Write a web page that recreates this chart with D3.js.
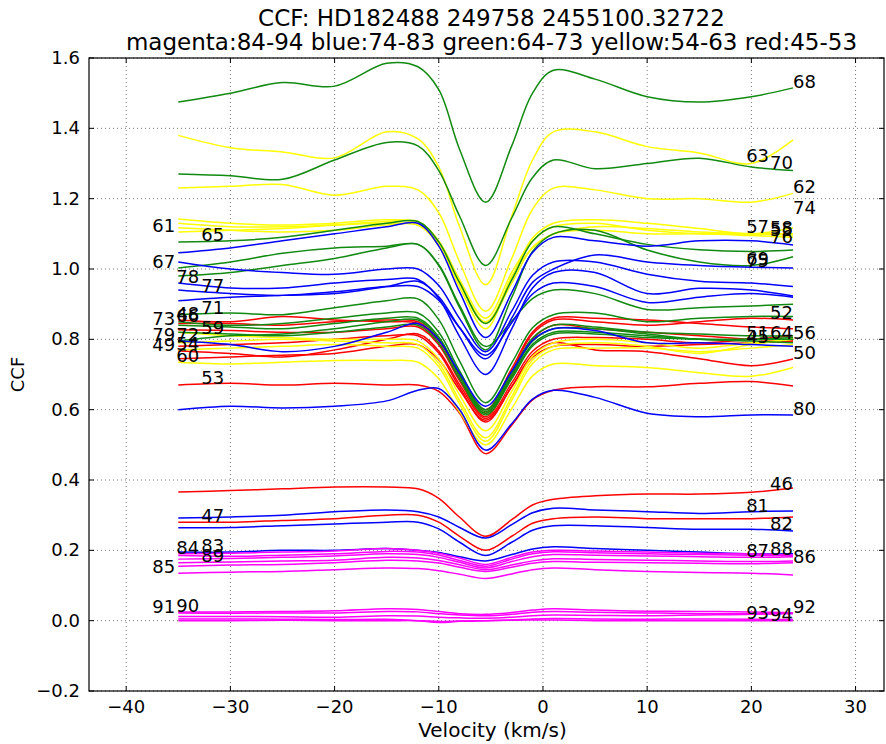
<!DOCTYPE html>
<html lang="en">
<head>
<meta charset="UTF-8">
<title>CCF HD182488</title>
<script src="https://d3js.org/d3.v7.min.js"></script>
<style>
  body { margin: 0; padding: 0; background: #fff; }
  svg { font-family: "DejaVu Sans", sans-serif; }
</style>
</head>
<body>
<svg id="chart" width="886" height="744"></svg>
<script>
// velocity grid (km/s) shared by every curve
const velocity = [-35, -30, -25, -20, -15, -12, -10, -8, -5.5, -3, -1, 1, 5, 10, 15, 20, 24];

const redIds = [45, 46, 47, 48, 49, 50, 51, 52, 53];
const redCurves = [
  [0.745,0.75,0.755,0.76,0.78,0.785,0.742,0.656,0.57,0.665,0.749,0.78,0.785,0.78,0.785,0.79,0.795],
  [0.366,0.37,0.375,0.38,0.38,0.375,0.348,0.294,0.24,0.287,0.329,0.345,0.355,0.36,0.36,0.365,0.377],
  [0.28,0.28,0.285,0.29,0.30,0.30,0.28,0.24,0.20,0.24,0.277,0.29,0.295,0.29,0.29,0.29,0.295],
  [0.855,0.85,0.865,0.855,0.85,0.845,0.796,0.698,0.60,0.717,0.821,0.86,0.86,0.855,0.845,0.835,0.83],
  [0.767,0.76,0.75,0.77,0.80,0.815,0.767,0.671,0.575,0.676,0.766,0.80,0.805,0.80,0.79,0.80,0.81],
  [0.78,0.785,0.79,0.80,0.81,0.81,0.761,0.663,0.565,0.666,0.756,0.79,0.77,0.765,0.745,0.725,0.744],
  [0.827,0.825,0.82,0.82,0.83,0.835,0.784,0.682,0.58,0.697,0.801,0.84,0.83,0.82,0.81,0.80,0.795],
  [0.845,0.845,0.84,0.85,0.855,0.85,0.798,0.694,0.59,0.709,0.815,0.855,0.85,0.84,0.85,0.86,0.855],
  [0.67,0.675,0.67,0.675,0.67,0.67,0.652,0.59,0.475,0.556,0.628,0.655,0.665,0.665,0.675,0.68,0.667]
];

const yellowIds = [54, 55, 56, 57, 58, 59, 60, 61, 62, 63];
const yellowCurves = [
  [0.77,0.775,0.78,0.785,0.78,0.775,0.722,0.616,0.51,0.627,0.731,0.77,0.775,0.775,0.765,0.775,0.785],
  [1.117,1.11,1.105,1.11,1.125,1.125,1.066,0.948,0.83,0.979,1.06,1.10,1.11,1.10,1.10,1.095,1.09],
  [0.79,0.795,0.80,0.795,0.79,0.785,0.732,0.626,0.52,0.637,0.741,0.78,0.79,0.78,0.76,0.785,0.80],
  [1.142,1.13,1.125,1.13,1.14,1.13,1.074,0.962,0.85,0.976,1.088,1.13,1.14,1.13,1.115,1.10,1.117],
  [1.13,1.12,1.12,1.125,1.13,1.125,1.069,0.957,0.845,0.96,1.062,1.10,1.12,1.115,1.105,1.10,1.097],
  [0.82,0.81,0.805,0.80,0.80,0.795,0.744,0.642,0.54,0.652,0.752,0.79,0.80,0.79,0.775,0.79,0.80],
  [0.735,0.73,0.735,0.74,0.74,0.735,0.688,0.594,0.50,0.603,0.696,0.73,0.725,0.72,0.705,0.695,0.72],
  [1.105,1.11,1.115,1.125,1.135,1.135,1.08,0.97,0.86,0.99,1.08,1.12,1.13,1.11,1.10,1.10,1.10],
  [1.23,1.235,1.24,1.21,1.235,1.225,1.16,1.02,0.88,1.03,1.17,1.23,1.225,1.20,1.20,1.19,1.215],
  [1.38,1.345,1.333,1.316,1.39,1.37,1.29,1.12,0.955,1.15,1.31,1.39,1.39,1.348,1.33,1.30,1.367]
];

const greenIds = [64, 65, 66, 67, 68, 69, 70, 71, 72, 73];
const greenCurves = [
  [0.82,0.815,0.81,0.82,0.835,0.84,0.789,0.687,0.585,0.688,0.781,0.815,0.815,0.805,0.80,0.80,0.805],
  [1.077,1.08,1.09,1.11,1.13,1.135,1.077,0.961,0.845,0.969,1.079,1.12,1.10,1.07,1.055,1.05,1.054],
  [0.85,0.84,0.845,0.86,0.875,0.875,0.82,0.71,0.60,0.708,0.804,0.84,0.835,0.82,0.815,0.81,0.81],
  [1.003,1.02,1.045,1.06,1.065,1.07,1.012,0.896,0.78,0.852,0.916,0.94,0.93,0.885,0.89,0.895,0.90],
  [1.475,1.50,1.53,1.52,1.585,1.575,1.51,1.34,1.19,1.35,1.50,1.565,1.54,1.49,1.475,1.49,1.515],
  [0.98,0.99,1.01,1.03,1.06,1.07,1.01,0.89,0.77,0.919,1.05,1.10,1.11,1.054,1.02,1.01,1.035],
  [1.27,1.265,1.255,1.31,1.36,1.35,1.28,1.15,1.01,1.145,1.26,1.31,1.285,1.30,1.315,1.29,1.28],
  [0.87,0.875,0.87,0.89,0.91,0.915,0.856,0.738,0.62,0.733,0.833,0.87,0.875,0.85,0.86,0.865,0.865],
  [0.795,0.81,0.815,0.83,0.85,0.855,0.802,0.696,0.59,0.694,0.786,0.82,0.82,0.81,0.80,0.80,0.80],
  [0.84,0.835,0.83,0.845,0.86,0.86,0.807,0.701,0.595,0.701,0.795,0.83,0.83,0.815,0.80,0.795,0.79]
];

const blueIds = [74, 75, 76, 77, 78, 79, 80, 81, 82, 83];
const blueCurves = [
  [1.02,1.00,0.99,0.985,1.00,1.00,0.953,0.859,0.765,0.88,0.982,1.02,1.02,0.985,0.965,0.96,0.95],
  [0.91,0.92,0.925,0.93,0.95,0.965,0.921,0.833,0.745,0.86,0.962,1.0,1.04,1.02,1.01,1.005,1.003],
  [1.046,1.06,1.08,1.10,1.12,1.13,1.065,0.935,0.805,0.933,1.047,1.09,1.08,1.065,1.08,1.08,1.068],
  [0.94,0.93,0.925,0.935,0.95,0.95,0.911,0.833,0.755,0.847,0.929,0.96,0.95,0.905,0.92,0.93,0.92],
  [0.96,0.946,0.946,0.96,0.97,0.97,0.916,0.808,0.70,0.83,0.946,0.99,0.99,0.93,0.945,0.94,0.923],
  [0.795,0.785,0.765,0.78,0.82,0.845,0.798,0.704,0.61,0.709,0.797,0.83,0.825,0.79,0.79,0.785,0.78],
  [0.60,0.61,0.605,0.61,0.625,0.655,0.66,0.60,0.485,0.56,0.63,0.655,0.635,0.59,0.58,0.585,0.585],
  [0.292,0.295,0.30,0.31,0.315,0.31,0.295,0.265,0.235,0.273,0.307,0.32,0.315,0.31,0.305,0.31,0.312],
  [0.264,0.265,0.27,0.275,0.28,0.28,0.261,0.223,0.185,0.223,0.257,0.27,0.27,0.265,0.26,0.26,0.255],
  [0.195,0.195,0.20,0.20,0.205,0.20,0.194,0.182,0.17,0.188,0.204,0.21,0.205,0.20,0.195,0.19,0.19]
];

const magentaIds = [84, 85, 86, 87, 88, 89, 90, 91, 92, 93, 94];
const magentaCurves = [
  [0.19,0.192,0.195,0.198,0.205,0.20,0.192,0.178,0.16,0.18,0.195,0.20,0.198,0.195,0.192,0.19,0.187],
  [0.135,0.138,0.14,0.145,0.15,0.148,0.142,0.132,0.12,0.133,0.145,0.15,0.145,0.14,0.137,0.135,0.13],
  [0.155,0.158,0.16,0.165,0.172,0.17,0.164,0.152,0.14,0.152,0.163,0.168,0.166,0.165,0.163,0.162,0.165],
  [0.175,0.177,0.18,0.184,0.19,0.188,0.18,0.166,0.15,0.168,0.182,0.188,0.186,0.184,0.182,0.18,0.182],
  [0.185,0.183,0.186,0.19,0.197,0.195,0.187,0.171,0.155,0.175,0.19,0.196,0.193,0.19,0.188,0.186,0.185],
  [0.165,0.167,0.17,0.172,0.18,0.178,0.171,0.159,0.145,0.158,0.17,0.176,0.174,0.172,0.17,0.168,0.17],
  [0.025,0.025,0.026,0.028,0.034,0.032,0.026,0.02,0.018,0.023,0.03,0.034,0.03,0.027,0.026,0.025,0.022],
  [0.022,0.021,0.022,0.022,0.026,0.025,0.02,0.016,0.014,0.018,0.024,0.026,0.024,0.022,0.02,0.02,0.02],
  [0.012,0.012,0.011,0.01,0.014,0.013,0.01,0.008,0.007,0.01,0.014,0.016,0.015,0.014,0.016,0.018,0.022],
  [0.005,0.005,0.004,0.003,0.004,0.0,-0.005,-0.002,0.0,0.002,0.005,0.006,0.005,0.004,0.005,0.004,0.003],
  [0.0,0.0,0.001,0.0,0.0,0.0,-0.002,-0.001,0.0,0.001,0.002,0.002,0.0,0.0,0.0,0.0,0.0]
];

// which end each number label sits at
const leftLabelled = [47, 48, 49, 53, 54, 59, 60, 61, 65, 66, 67, 71, 72, 73, 77, 78, 79, 83, 84, 85, 89, 90, 91];
// label slots (velocity of label start), chosen by id % 3
const leftSlots = { 1: -37.5, 0: -35.2, 2: -32.8 };
const rightSlots = { 0: 19.5, 1: 21.8, 2: 24.0 };
const labelValueOverride = { 74: 1.157 };

const xTicks = [-40, -30, -20, -10, 0, 10, 20, 30];
const yTicks = [-0.2, 0.0, 0.2, 0.4, 0.6, 0.8, 1.0, 1.2, 1.4, 1.6];

const titleLines = ["CCF: HD182488 249758 2455100.32722",
                    "magenta:84-94 blue:74-83 green:64-73 yellow:54-63 red:45-53"];

// ---------------------------------------------------------------
const plot = { left: 89, right: 884, top: 58, bottom: 691 };
const svg = d3.select("#chart");

const x = d3.scaleLinear().domain([-43.57, 32.73]).range([plot.left, plot.right]);
const y = d3.scaleLinear().domain([-0.2, 1.6]).range([plot.bottom, plot.top]);

const groups = [
  { ids: redIds, curves: redCurves, color: "#ff0000" },
  { ids: yellowIds, curves: yellowCurves, color: "#ffff00" },
  { ids: greenIds, curves: greenCurves, color: "#108a10" },
  { ids: blueIds, curves: blueCurves, color: "#0000ff" },
  { ids: magentaIds, curves: magentaCurves, color: "#ff00ff" }
];

const series = [];
groups.forEach(g => g.ids.forEach((id, i) => series.push({ id, values: g.curves[i], color: g.color })));
series.sort((a, b) => a.id - b.id);

// grid
const grid = svg.append("g");
grid.selectAll(".gx").data(xTicks).enter().append("line")
  .attr("x1", d => x(d)).attr("x2", d => x(d))
  .attr("y1", plot.top).attr("y2", plot.bottom)
  .attr("stroke", "#777").attr("stroke-width", 1).attr("stroke-dasharray", "1,3");
grid.selectAll(".gy").data(yTicks).enter().append("line")
  .attr("x1", plot.left).attr("x2", plot.right)
  .attr("y1", d => y(d)).attr("y2", d => y(d))
  .attr("stroke", "#777").attr("stroke-width", 1).attr("stroke-dasharray", "1,3");

// curves
const line = d3.line()
  .x((d, i) => x(velocity[i]))
  .y(d => y(d))
  .curve(d3.curveCatmullRom.alpha(0.5));

svg.append("g").selectAll("path").data(series).enter().append("path")
  .attr("d", d => line(d.values))
  .attr("fill", "none")
  .attr("stroke", d => d.color)
  .attr("stroke-width", 1.5);

// value of a curve at a given velocity (linear between grid points)
function valueAt(values, v) {
  if (v <= velocity[0]) return values[0];
  if (v >= velocity[velocity.length - 1]) return values[values.length - 1];
  for (let i = 0; i < velocity.length - 1; i++) {
    if (v >= velocity[i] && v <= velocity[i + 1]) {
      const t = (v - velocity[i]) / (velocity[i + 1] - velocity[i]);
      return values[i] + t * (values[i + 1] - values[i]);
    }
  }
}

// number labels
svg.append("g").selectAll("text").data(series).enter().append("text")
  .each(function(d) {
    const onLeft = leftLabelled.includes(d.id);
    const v = onLeft ? leftSlots[d.id % 3] : rightSlots[d.id % 3];
    const val = labelValueOverride[d.id] !== undefined ? labelValueOverride[d.id] : valueAt(d.values, v);
    d3.select(this).attr("x", x(v)).attr("y", y(val));
  })
  .attr("font-size", 18)
  .attr("fill", "#000")
  .text(d => d.id);

// frame
svg.append("rect")
  .attr("x", plot.left).attr("y", plot.top)
  .attr("width", plot.right - plot.left).attr("height", plot.bottom - plot.top)
  .attr("fill", "none").attr("stroke", "#000").attr("stroke-width", 1.2);

// inward ticks
const tk = svg.append("g").attr("stroke", "#000").attr("stroke-width", 1);
xTicks.forEach(t => {
  tk.append("line").attr("x1", x(t)).attr("x2", x(t)).attr("y1", plot.bottom).attr("y2", plot.bottom - 5);
  tk.append("line").attr("x1", x(t)).attr("x2", x(t)).attr("y1", plot.top).attr("y2", plot.top + 5);
});
yTicks.forEach(t => {
  tk.append("line").attr("x1", plot.left).attr("x2", plot.left + 5).attr("y1", y(t)).attr("y2", y(t));
  tk.append("line").attr("x1", plot.right).attr("x2", plot.right - 5).attr("y1", y(t)).attr("y2", y(t));
});

// tick labels
const fmtY = d3.format(".1f");
svg.append("g").selectAll("text").data(yTicks).enter().append("text")
  .attr("x", plot.left - 9).attr("y", d => y(d) + 6)
  .attr("text-anchor", "end").attr("font-size", 18)
  .text(d => fmtY(d).replace("-", "\u2212"));
svg.append("g").selectAll("text").data(xTicks).enter().append("text")
  .attr("x", d => x(d)).attr("y", plot.bottom + 22)
  .attr("text-anchor", "middle").attr("font-size", 18)
  .text(d => String(d).replace("-", "\u2212"));

// axis titles
svg.append("text")
  .attr("x", (plot.left + plot.right) / 2 + 6).attr("y", 737)
  .attr("text-anchor", "middle").attr("font-size", 20)
  .text("Velocity (km/s)");
svg.append("text")
  .attr("transform", `translate(24,${(plot.top + plot.bottom) / 2}) rotate(-90)`)
  .attr("text-anchor", "middle").attr("font-size", 18)
  .text("CCF");

// title
svg.selectAll(".title").data(titleLines).enter().append("text")
  .attr("class", "title")
  .attr("x", (plot.left + plot.right) / 2 + 5)
  .attr("y", (d, i) => 26 + i * 24)
  .attr("text-anchor", "middle")
  .attr("font-size", 23)
  .text(d => d);
</script>
</body>
</html>
